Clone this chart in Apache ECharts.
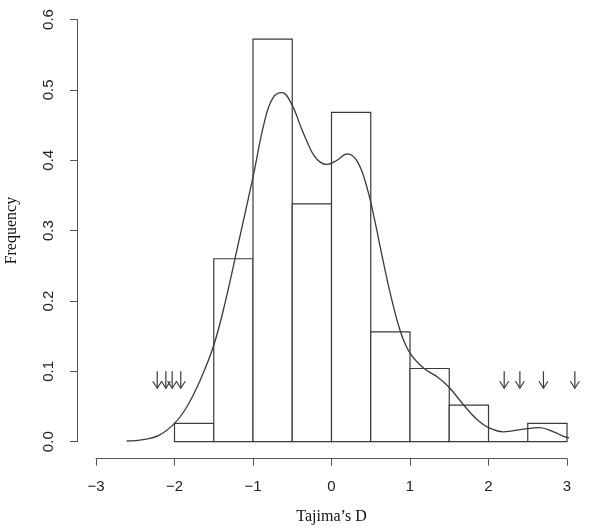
<!DOCTYPE html>
<html>
<head>
<meta charset="utf-8">
<script src="https://cdn.jsdelivr.net/npm/echarts@6/dist/echarts.min.js"></script>
<style>html,body{margin:0;padding:0;background:#fff;}#chart{width:600px;height:530px;}</style>
</head>
<body>
<div id="chart"></div>
<script>
// Histogram bins (left and right edges) and density heights
const binLeft  = [-2, -1.5, -1, -0.5, 0, 0.5, 1, 1.5, 2, 2.5];
const binRight = [-1.5, -1, -0.5, 0, 0.5, 1, 1.5, 2, 2.5, 3];
const binFreq  = [0.026, 0.26, 0.572, 0.338, 0.468, 0.156, 0.104, 0.052, 0, 0.026];

// Kernel density curve
const curveX = [-2.61, -2.4, -2.2, -2.0, -1.84, -1.67, -1.5, -1.35, -1.2, -1.0, -0.86, -0.75, -0.63, -0.5, -0.4, -0.31, -0.225, -0.14, -0.055, 0.07, 0.2, 0.33, 0.45, 0.55, 0.62, 0.75, 0.88, 1.0, 1.18, 1.35, 1.5, 1.7, 1.85, 2.0, 2.19, 2.45, 2.65, 2.83, 3.0, 3.24];
const curveY = [0.001, 0.003, 0.009, 0.026, 0.05, 0.088, 0.137, 0.2, 0.275, 0.376, 0.452, 0.488, 0.496, 0.478, 0.45, 0.426, 0.407, 0.397, 0.394, 0.4, 0.409, 0.398, 0.362, 0.315, 0.277, 0.21, 0.156, 0.126, 0.104, 0.092, 0.077, 0.05, 0.032, 0.02, 0.014, 0.018, 0.02, 0.014, 0.006, 0.002];

// Arrow markers (x positions), arrow top and tip heights
const arrowX = [-2.22, -2.11, -2.03, -1.92, 2.2, 2.4, 2.7, 3.1];
const arrowTop = 0.1;
const arrowTip = 0.076;

// Tick labels
const xTicks = [-3, -2, -1, 0, 1, 2, 3];
const yTicks = [0, 0.1, 0.2, 0.3, 0.4, 0.5, 0.6];

const ink = '#3a3a3a';
const chart = echarts.init(document.getElementById('chart'), null, {renderer: 'canvas'});

const barData = binLeft.map((l, i) => [l, binRight[i], binFreq[i]]);
const curveData = curveX.map((x, i) => [x, curveY[i]]);
const arrowData = arrowX.map(x => [x, arrowTop, arrowTip]);

chart.setOption({
  animation: false,
  backgroundColor: '#fff',
  grid: {left: 96, right: 33, top: 19.5, bottom: 88.3, containLabel: false, outerBoundsMode: 'none'},
  xAxis: {
    type: 'value', min: xTicks[0], max: xTicks[xTicks.length - 1], interval: 1,
    offset: 17,
    axisLine: {show: true, onZero: false, lineStyle: {color: '#555', width: 1}},
    axisTick: {show: true, length: 7, lineStyle: {color: '#555'}},
    splitLine: {show: false},
    axisLabel: {
      color: '#222', fontFamily: 'Liberation Sans, Arial, sans-serif', fontSize: 15, margin: 21,
      formatter: v => String(v).replace('-', '\u2212')
    },
    name: 'Tajima\u2019s D', nameLocation: 'middle', nameGap: 50,
    nameTextStyle: {color: '#111', fontFamily: 'Liberation Serif, Times New Roman, serif', fontSize: 16}
  },
  yAxis: {
    type: 'value', min: yTicks[0], max: yTicks[yTicks.length - 1], interval: 0.1,
    offset: 19,
    axisLine: {show: true, onZero: false, lineStyle: {color: '#555', width: 1}},
    axisTick: {show: true, length: 7, lineStyle: {color: '#555'}},
    splitLine: {show: false},
    axisLabel: {
      color: '#222', fontFamily: 'Liberation Sans, Arial, sans-serif', fontSize: 15, margin: 21, rotate: 90,
      formatter: v => v.toFixed(1)
    },
    name: 'Frequency', nameLocation: 'middle', nameGap: 57, nameRotate: 90,
    nameTextStyle: {color: '#111', fontFamily: 'Liberation Serif, Times New Roman, serif', fontSize: 16}
  },
  series: [
    {
      type: 'custom',
      data: barData,
      clip: false,
      renderItem: function (params, api) {
        const p0 = api.coord([api.value(0), 0]);
        const p1 = api.coord([api.value(1), api.value(2)]);
        return {
          type: 'rect',
          shape: {x: p0[0], y: p1[1], width: p1[0] - p0[0], height: p0[1] - p1[1]},
          style: {fill: '#fff', stroke: ink, lineWidth: 1.2}
        };
      },
      z: 1
    },
    {
      type: 'line',
      data: curveData,
      smooth: 0.4,
      showSymbol: false,
      symbol: 'none',
      clip: false,
      lineStyle: {color: ink, width: 1.3},
      z: 3
    },
    {
      type: 'custom',
      data: arrowData,
      clip: false,
      renderItem: function (params, api) {
        const top = api.coord([api.value(0), api.value(1)]);
        const tip = api.coord([api.value(0), api.value(2)]);
        const hw = 4.5, hh = 7;
        return {
          type: 'group',
          children: [
            {type: 'line', shape: {x1: top[0], y1: top[1], x2: tip[0], y2: tip[1]},
             style: {stroke: ink, lineWidth: 1.2}},
            {type: 'polyline', shape: {points: [[tip[0] - hw, tip[1] - hh], [tip[0], tip[1]], [tip[0] + hw, tip[1] - hh]]},
             style: {stroke: ink, lineWidth: 1.2, fill: null}}
          ]
        };
      },
      z: 4
    }
  ]
});
</script>
</body>
</html>
